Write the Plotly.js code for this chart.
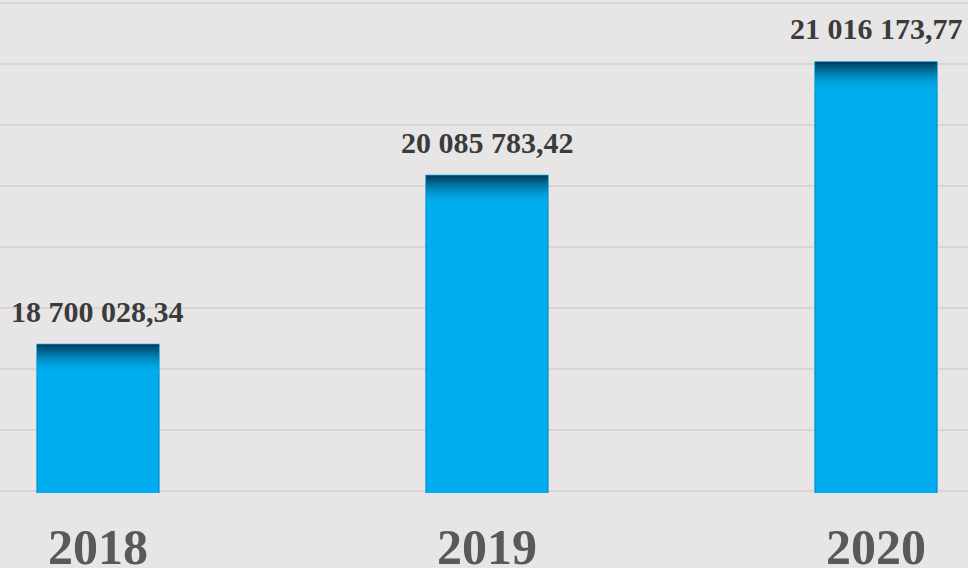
<!DOCTYPE html>
<html><head><meta charset="utf-8">
<script src="https://cdn.plot.ly/plotly-3.0.1.min.js"></script>
<style>html,body{margin:0;padding:0;background:#e8e5e6;overflow:hidden}#chart{width:968px;height:568px}</style>
</head><body><div id="chart"></div>
<script>
const years = ['2018', '2019', '2020'];
const amounts = [18700028.34, 20085783.42, 21016173.77];
const yMin = 17500000, yMax = 21500000, yStep = 500000;

function fmt(v) {
  const parts = v.toFixed(2).split('.');
  return parts[0].replace(/\B(?=(\d{3})+(?!\d))/g, '\u00a0') + ',' + parts[1];
}

const W = 968, H = 568, mt = 1, mb = 75;
const plotH = H - mt - mb;
// range padded by 2px on each side so the edge gridlines are drawn
const pxVal = (yMax - yMin) / (plotH - 4);
const rMin = yMin - 2 * pxVal, rMax = yMax + 2 * pxVal;
const barW = 0.313;

const traces = [{
  type: 'bar', x: years, y: amounts, width: barW,
  marker: {color: '#00aeef', line: {width: 1.5, color: '#0096d2'}},
  hoverinfo: 'x+y'
}];

// top inner shadow bands
const c0 = [0, 60, 92], c1 = [0, 174, 239];
const depth = 28, bandPx = 2, overlap = 1.5;
for (let k = 0; k < depth / bandPx; k++) {
  const d = (k + 0.5) * bandPx;
  const t = Math.pow(1 - d / depth, 1.6);
  const col = c1.map((c, i) => Math.round(c + (c0[i] - c) * t));
  traces.push({
    type: 'bar', x: years,
    base: amounts.map(v => v - ((k + 1) * bandPx + overlap) * pxVal),
    y: amounts.map(() => (bandPx + overlap) * pxVal),
    width: barW,
    marker: {color: 'rgb(' + col.join(',') + ')', line: {width: 0}},
    hoverinfo: 'skip'
  });
}

const annotations = years.map((yr, i) => ({
  x: i, y: amounts[i], xref: 'x', yref: 'y',
  text: fmt(amounts[i]), showarrow: false,
  yanchor: 'bottom', xanchor: 'center', yshift: 15,
  font: {family: 'Liberation Serif, Times New Roman, serif', size: 30, color: '#3b3b3b', weight: 'bold'}
}));

const layout = {
  width: W, height: H,
  paper_bgcolor: '#e8e5e6', plot_bgcolor: '#e8e5e6',
  barmode: 'overlay', showlegend: false,
  margin: {l: 0, r: 0, t: mt, b: mb, pad: 0},
  xaxis: {
    type: 'category', range: [-0.2519, 2.2365],
    showgrid: false, zeroline: false, showline: false,
    ticks: 'outside', ticklen: 10, tickcolor: 'rgba(0,0,0,0)',
    tickfont: {family: 'Liberation Serif, Times New Roman, serif', size: 50, color: '#595959', weight: 'bold'}
  },
  yaxis: {
    range: [rMin, rMax], tick0: yMin, dtick: yStep,
    showticklabels: false, gridcolor: '#d7d5d5', gridwidth: 2,
    zeroline: false, showline: false
  },
  annotations: annotations
};

Plotly.newPlot('chart', traces, layout, {staticPlot: true, displayModeBar: false});
</script>
</body></html>
